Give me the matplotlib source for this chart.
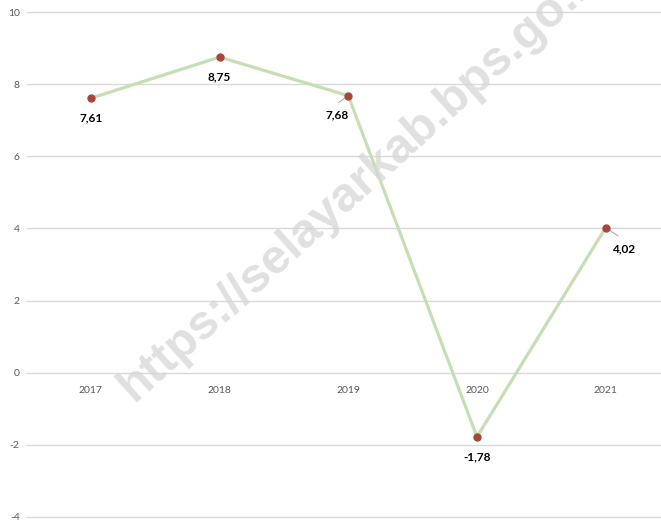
import matplotlib
matplotlib.use("Agg")
import matplotlib.pyplot as plt

years = ["2017", "2018", "2019", "2020", "2021"]
values = [7.61, 8.75, 7.68, -1.78, 4.02]
labels = ["7,61", "8,75", "7,68", "-1,78", "4,02"]
yticks = [-4, -2, 0, 2, 4, 6, 8, 10]

FONT = ["Lato", "DejaVu Sans"]

fig = plt.figure(figsize=(6.61, 5.25), dpi=100)
ax = fig.add_axes([0.0402, 0.01524, 0.9734, 0.9619])

x = list(range(len(years)))
ax.set_xlim(-0.5, 4.5)
ax.set_ylim(-4, 10)
ax.set_yticks(yticks)
ax.set_yticklabels([str(v) for v in yticks], fontsize=7.5, color="#595959", family=FONT)
for v in yticks:
    ax.axhline(v, color="#d9d9d9", linewidth=1.0, zorder=0, clip_on=False)
ax.tick_params(axis="y", length=0, pad=5)
ax.set_xticks([])
for s in ax.spines.values():
    s.set_visible(False)

# category labels below zero line
for xi, yr in zip(x, years):
    ax.annotate(yr, (xi, 0), xytext=(0, -13), textcoords="offset points",
                ha="center", va="center", fontsize=7.5, color="#595959", family=FONT)

ax.plot(x, values, color="#c6deb3", linewidth=2.3, zorder=3, solid_joinstyle="round")
ax.plot(x, values, linestyle="none", marker="o", markersize=5, color="#a8463c", zorder=4)

offsets = [(0, -14), (0, -14), (-8, -14), (0, -14), (13, -15)]
for xi, v, lab, off in zip(x, values, labels, offsets):
    ax.annotate(lab, (xi, v), xytext=off, textcoords="offset points",
                ha="center", va="center", fontsize=8.5, fontweight="bold",
                color="black", family=FONT, zorder=5)
# leader lines
for xi, v, (dx, dy) in [(2, 7.68, (-7, -5)), (4, 4.02, (9, -6))]:
    ax.annotate("", (xi, v), xytext=(dx, dy), textcoords="offset points",
                arrowprops=dict(arrowstyle="-", color="#a6a6a6", lw=0.7, shrinkA=0, shrinkB=2))

fig.text(364 / 661, 1 - 178 / 525, "https://selayarkab.bps.go.id", rotation=42,
         ha="center", va="center", fontsize=35, fontweight="bold",
         color="#d6d6d6", alpha=0.75, family=["Liberation Sans", "DejaVu Sans"],
         rotation_mode="anchor", zorder=10)

fig.savefig("out.png", dpi=100)
